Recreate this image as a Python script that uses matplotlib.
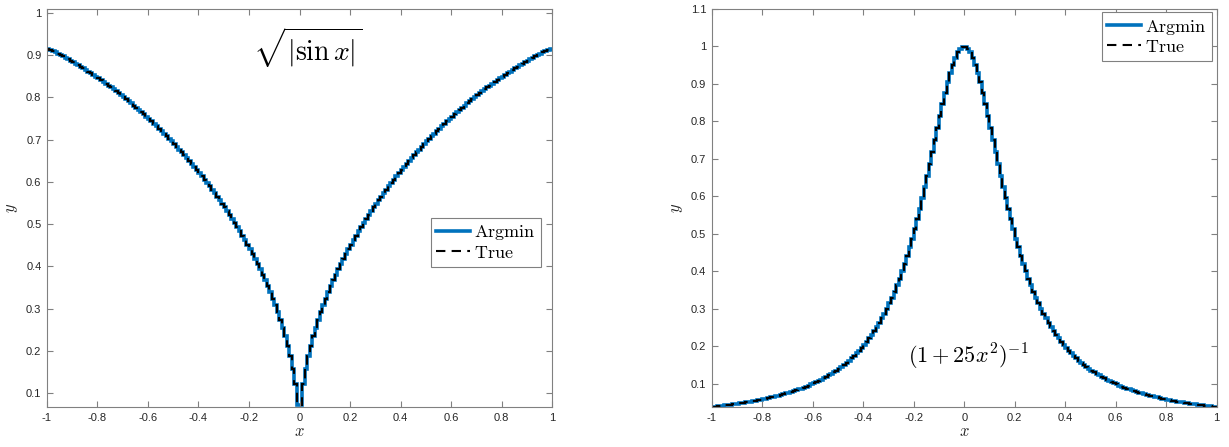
import numpy as np
import matplotlib.pyplot as plt

plt.rcParams['mathtext.fontset'] = 'cm'
plt.rcParams['font.family'] = ['Liberation Sans', 'DejaVu Sans']

# 200 cells of width 0.01 on [-1, 1]
edges = np.linspace(-1, 1, 201)

# sqrt(|sin x|), left panel, cells from -1 to 1
y_sin = [
    0.9154, 0.9124, 0.9093, 0.9062, 0.9031, 0.8999, 0.8966, 0.8933, 0.8899, 0.8865,
    0.8830, 0.8794, 0.8758, 0.8722, 0.8684, 0.8646, 0.8608, 0.8569, 0.8529, 0.8489,
    0.8448, 0.8406, 0.8364, 0.8321, 0.8277, 0.8233, 0.8188, 0.8143, 0.8097, 0.8050,
    0.8002, 0.7954, 0.7905, 0.7855, 0.7805, 0.7754, 0.7702, 0.7649, 0.7596, 0.7542,
    0.7487, 0.7431, 0.7375, 0.7317, 0.7259, 0.7200, 0.7140, 0.7080, 0.7018, 0.6956,
    0.6892, 0.6828, 0.6763, 0.6696, 0.6629, 0.6561, 0.6492, 0.6421, 0.6350, 0.6277,
    0.6203, 0.6128, 0.6052, 0.5975, 0.5896, 0.5815, 0.5734, 0.5651, 0.5566, 0.5480,
    0.5392, 0.5302, 0.5211, 0.5118, 0.5022, 0.4925, 0.4825, 0.4723, 0.4619, 0.4512,
    0.4402, 0.4289, 0.4173, 0.4053, 0.3929, 0.3801, 0.3669, 0.3531, 0.3387, 0.3237,
    0.3080, 0.2914, 0.2737, 0.2549, 0.2345, 0.2121, 0.1871, 0.1581, 0.1225, 0.0707,
    0.0707, 0.1225, 0.1581, 0.1871, 0.2121, 0.2345, 0.2549, 0.2737, 0.2914, 0.3080,
    0.3237, 0.3387, 0.3531, 0.3669, 0.3801, 0.3929, 0.4053, 0.4173, 0.4289, 0.4402,
    0.4512, 0.4619, 0.4723, 0.4825, 0.4925, 0.5022, 0.5118, 0.5211, 0.5302, 0.5392,
    0.5480, 0.5566, 0.5651, 0.5734, 0.5815, 0.5896, 0.5975, 0.6052, 0.6128, 0.6203,
    0.6277, 0.6350, 0.6421, 0.6492, 0.6561, 0.6629, 0.6696, 0.6763, 0.6828, 0.6892,
    0.6956, 0.7018, 0.7080, 0.7140, 0.7200, 0.7259, 0.7317, 0.7375, 0.7431, 0.7487,
    0.7542, 0.7596, 0.7649, 0.7702, 0.7754, 0.7805, 0.7855, 0.7905, 0.7954, 0.8002,
    0.8050, 0.8097, 0.8143, 0.8188, 0.8233, 0.8277, 0.8321, 0.8364, 0.8406, 0.8448,
    0.8489, 0.8529, 0.8569, 0.8608, 0.8646, 0.8684, 0.8722, 0.8758, 0.8794, 0.8830,
    0.8865, 0.8899, 0.8933, 0.8966, 0.8999, 0.9031, 0.9062, 0.9093, 0.9124, 0.9154,
]

# (1 + 25 x^2)^-1, right panel, cells from -1 to 1
y_runge = [
    0.0388, 0.0396, 0.0404, 0.0412, 0.0420, 0.0429, 0.0438, 0.0447, 0.0456, 0.0466,
    0.0476, 0.0486, 0.0497, 0.0507, 0.0519, 0.0530, 0.0543, 0.0555, 0.0568, 0.0581,
    0.0595, 0.0609, 0.0624, 0.0640, 0.0656, 0.0672, 0.0689, 0.0707, 0.0726, 0.0745,
    0.0765, 0.0786, 0.0807, 0.0829, 0.0853, 0.0877, 0.0902, 0.0929, 0.0956, 0.0985,
    0.1015, 0.1047, 0.1079, 0.1114, 0.1149, 0.1187, 0.1226, 0.1267, 0.1310, 0.1356,
    0.1403, 0.1453, 0.1506, 0.1561, 0.1619, 0.1681, 0.1745, 0.1813, 0.1885, 0.1961,
    0.2041, 0.2125, 0.2215, 0.2309, 0.2409, 0.2515, 0.2628, 0.2747, 0.2873, 0.3007,
    0.3149, 0.3300, 0.3459, 0.3629, 0.3809, 0.3999, 0.4201, 0.4414, 0.4639, 0.4877,
    0.5127, 0.5389, 0.5664, 0.5950, 0.6248, 0.6555, 0.6870, 0.7191, 0.7515, 0.7839,
    0.8159, 0.8470, 0.8767, 0.9045, 0.9297, 0.9518, 0.9703, 0.9846, 0.9944, 0.9994,
    0.9994, 0.9944, 0.9846, 0.9703, 0.9518, 0.9297, 0.9045, 0.8767, 0.8470, 0.8159,
    0.7839, 0.7515, 0.7191, 0.6870, 0.6555, 0.6248, 0.5950, 0.5664, 0.5389, 0.5127,
    0.4877, 0.4639, 0.4414, 0.4201, 0.3999, 0.3809, 0.3629, 0.3459, 0.3300, 0.3149,
    0.3007, 0.2873, 0.2747, 0.2628, 0.2515, 0.2409, 0.2309, 0.2215, 0.2125, 0.2041,
    0.1961, 0.1885, 0.1813, 0.1745, 0.1681, 0.1619, 0.1561, 0.1506, 0.1453, 0.1403,
    0.1356, 0.1310, 0.1267, 0.1226, 0.1187, 0.1149, 0.1114, 0.1079, 0.1047, 0.1015,
    0.0985, 0.0956, 0.0929, 0.0902, 0.0877, 0.0853, 0.0829, 0.0807, 0.0786, 0.0765,
    0.0745, 0.0726, 0.0707, 0.0689, 0.0672, 0.0656, 0.0640, 0.0624, 0.0609, 0.0595,
    0.0581, 0.0568, 0.0555, 0.0543, 0.0530, 0.0519, 0.0507, 0.0497, 0.0486, 0.0476,
    0.0466, 0.0456, 0.0447, 0.0438, 0.0429, 0.0420, 0.0412, 0.0404, 0.0396, 0.0388,
]

x_ticks = [-1, -0.8, -0.6, -0.4, -0.2, 0, 0.2, 0.4, 0.6, 0.8, 1]
x_ticklabels = ['-1', '-0.8', '-0.6', '-0.4', '-0.2', '0', '0.2', '0.4', '0.6', '0.8', '1']
y_ticks_sin = [0.1, 0.2, 0.3, 0.4, 0.5, 0.6, 0.7, 0.8, 0.9, 1]
y_ticks_runge = [0.1, 0.2, 0.3, 0.4, 0.5, 0.6, 0.7, 0.8, 0.9, 1, 1.1]

blue = '#0072BD'
grey = '#808080'
text_col = '#262626'


def style_axes(ax, yticks):
    ax.set_xlim(-1, 1)
    ax.set_xticks(x_ticks)
    ax.set_xticklabels(x_ticklabels)
    ax.set_yticks(yticks)
    ax.set_yticklabels(['%g' % v for v in yticks])
    ax.tick_params(direction='in', length=4, width=0.8, color=grey, labelcolor=text_col,
                   labelsize=8, top=True, right=True, pad=4)
    for sp in ax.spines.values():
        sp.set_color(grey)
        sp.set_linewidth(0.8)
    ax.set_xlabel('$x$', fontsize=12, color=text_col, labelpad=1)
    ax.set_ylabel('$y$', fontsize=12, color=text_col, labelpad=4)


def draw_series(ax, y):
    ax.stairs(y, edges, baseline=None, color=blue, lw=2.6, label=r'$\mathrm{Argmin}$')
    ax.stairs(y, edges, baseline=None, color='black', lw=1.5, linestyle=(0, (4.5, 3)),
              label=r'$\mathrm{True}$')


def add_legend(ax, anchor):
    leg = ax.legend(loc='upper right', bbox_to_anchor=anchor, fontsize=13,
                    fancybox=False, framealpha=1, edgecolor=grey, handlelength=1.85,
                    borderpad=0.3, labelspacing=0.12, handletextpad=0.25,
                    borderaxespad=0)
    leg.get_frame().set_linewidth(0.8)


fig = plt.figure(figsize=(12.29, 4.47), dpi=100)
ax1 = fig.add_axes([0.0382, 0.0895, 0.411, 0.8904])
ax2 = fig.add_axes([0.5791, 0.0895, 0.4109, 0.8904])

draw_series(ax1, y_sin)
style_axes(ax1, y_ticks_sin)
ax1.set_ylim(0.067, 1.009)
ax1.text(0.03, 0.917, r'$\sqrt{|\sin x|}$', fontsize=20, ha='center', va='center')
add_legend(ax1, (0.978, 0.475))

draw_series(ax2, y_runge)
style_axes(ax2, y_ticks_runge)
ax2.set_ylim(0.0385, 1.1)
ax2.text(0.015, 0.172, r'$(1+25x^2)^{-1}$', fontsize=16, ha='center', va='center')
add_legend(ax2, (0.991, 0.992))

fig.savefig('out.png', dpi=100)
